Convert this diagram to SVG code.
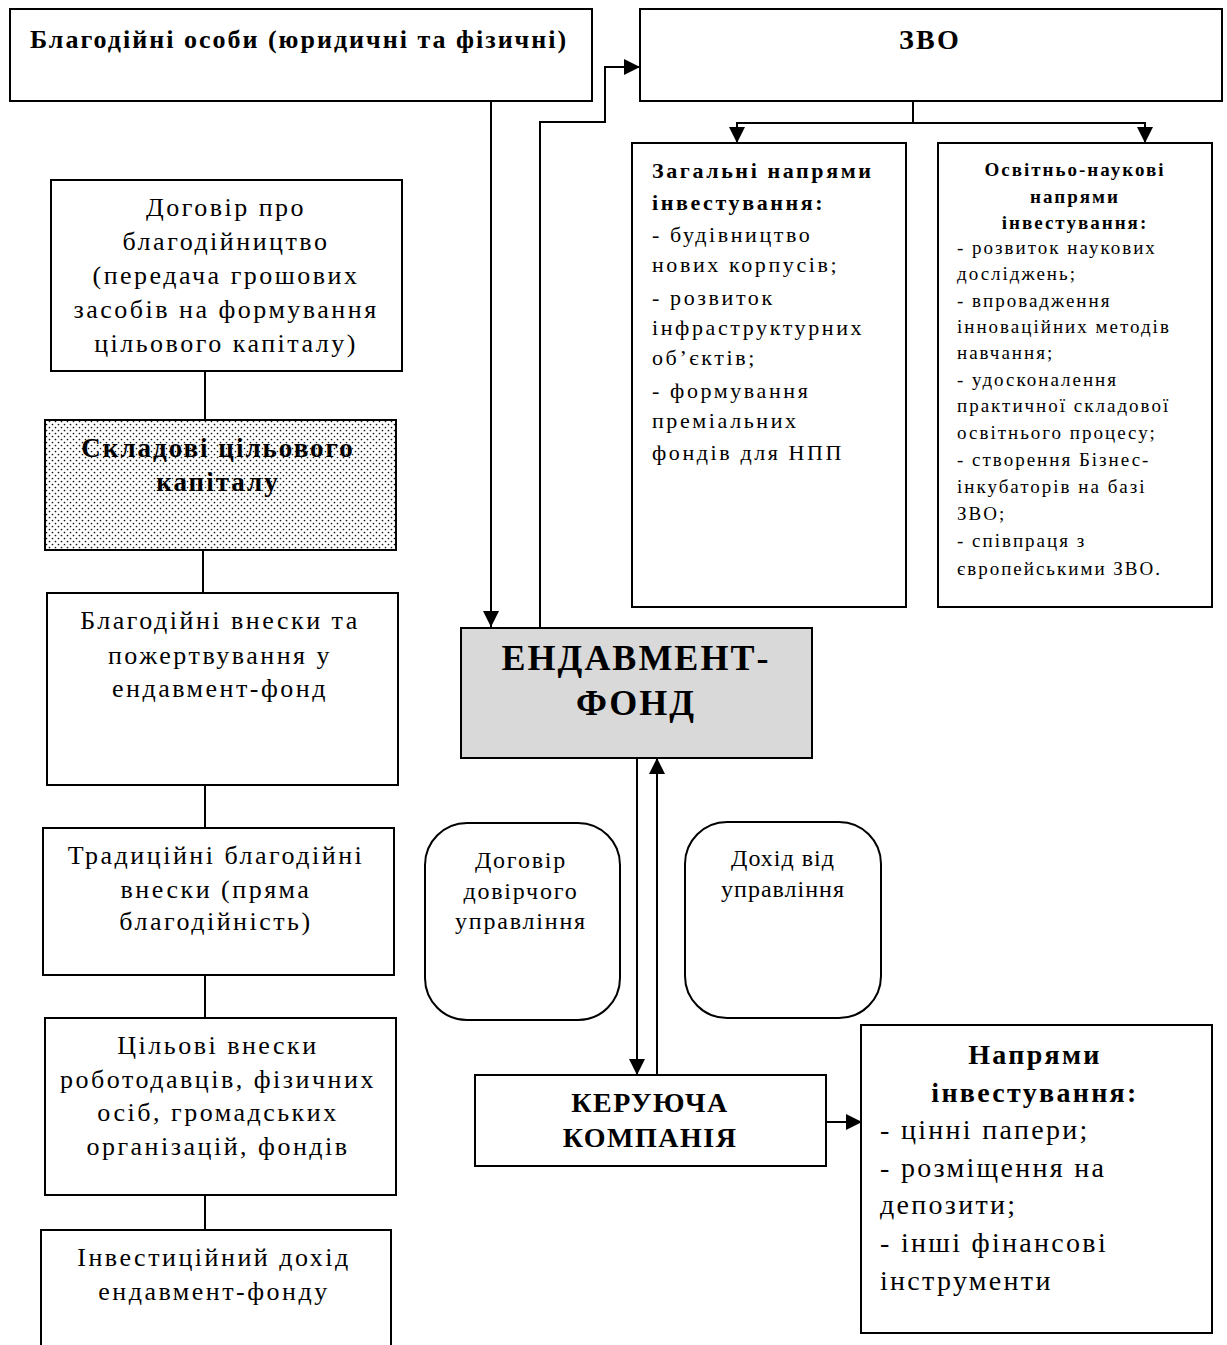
<svg xmlns="http://www.w3.org/2000/svg" width="1227" height="1345" viewBox="0 0 1227 1345">
<defs>
<pattern id="dots" width="6" height="6" patternUnits="userSpaceOnUse">
<rect width="6" height="6" fill="#fff" stroke="none"/>
<circle cx="1.5" cy="1.5" r="0.85" fill="#111"/>
<circle cx="4.5" cy="4.5" r="0.85" fill="#111"/>
</pattern>
<marker id="ahs" viewBox="0 0 10 10" refX="10" refY="5" markerWidth="16" markerHeight="16" markerUnits="userSpaceOnUse" orient="auto">
<path d="M0,0 L10,5 L0,10 z" fill="#000"/>
</marker>
</defs>
<style>
.n{fill:#fff;stroke:#000;stroke-width:2}
text{font-family:"Liberation Serif","Times New Roman",serif;fill:#000}
.c{text-anchor:middle}
.b{font-weight:bold}
.t26{font-size:26px;letter-spacing:2.5px}
.t22{font-size:22px;letter-spacing:2.6px}
.t18{font-size:19px;letter-spacing:2px}
.t24{font-size:24px;letter-spacing:1.8px}
.t28{font-size:28px;letter-spacing:2.3px}
.con line,.con path{stroke:#000;stroke-width:2;fill:none}
</style>
<rect width="1227" height="1345" fill="#fff"/>
<g class="con">
<line x1="491" y1="101" x2="491" y2="627" marker-end="url(#ahs)"/>
<path d="M540,628 V122 H605 V67 H640" marker-end="url(#ahs)"/>
<line x1="913" y1="101" x2="913" y2="123"/>
<path d="M737,143 V123 H1145 V143" marker-end="url(#ahs)"/>
<line x1="737" y1="123" x2="737" y2="143" marker-end="url(#ahs)"/>
<line x1="205" y1="371" x2="205" y2="420"/>
<line x1="203" y1="550" x2="203" y2="593"/>
<line x1="205" y1="785" x2="205" y2="828"/>
<line x1="205" y1="975" x2="205" y2="1018"/>
<line x1="205" y1="1195" x2="205" y2="1230"/>
<line x1="637" y1="758" x2="637" y2="1075" marker-end="url(#ahs)"/>
<line x1="657" y1="1075" x2="657" y2="758" marker-end="url(#ahs)"/>
<line x1="826" y1="1122" x2="862" y2="1122" marker-end="url(#ahs)"/>
</g>
<g id="donors">
<rect class="n" x="10" y="9" width="582" height="92"/>
<text class="b" x="30" y="48" style="font-size:26px;letter-spacing:2px">Благодійні особи (юридичні та фізичні)</text>
</g>
<g id="zvo">
<rect class="n" x="640" y="9" width="582" height="92"/>
<text class="c b t28" x="930" y="49">ЗВО</text>
</g>
<g id="general">
<rect class="n" x="632" y="143" width="274" height="464"/>
<text class="b t22" x="652" y="178">Загальні напрями</text>
<text class="b t22" x="652" y="210">інвестування:</text>
<text class="t22" x="652" y="242">- будівництво</text>
<text class="t22" x="652" y="272">нових корпусів;</text>
<text class="t22" x="652" y="305">- розвиток</text>
<text class="t22" x="652" y="335">інфраструктурних</text>
<text class="t22" x="652" y="365">об’єктів;</text>
<text class="t22" x="652" y="398">- формування</text>
<text class="t22" x="652" y="428">преміальних</text>
<text class="t22" x="652" y="460">фондів для НПП</text>
</g>
<g id="science">
<rect class="n" x="938" y="143" width="274" height="464"/>
<text class="c b t18" x="1075" y="176">Освітньо-наукові</text>
<text class="c b t18" x="1075" y="203">напрями</text>
<text class="c b t18" x="1075" y="229">інвестування:</text>
<text class="t18" x="957" y="254">- розвиток наукових</text>
<text class="t18" x="957" y="280">досліджень;</text>
<text class="t18" x="957" y="307">- впровадження</text>
<text class="t18" x="957" y="333">інноваційних методів</text>
<text class="t18" x="957" y="359">навчання;</text>
<text class="t18" x="957" y="386">- удосконалення</text>
<text class="t18" x="957" y="412">практичної складової</text>
<text class="t18" x="957" y="439">освітнього процесу;</text>
<text class="t18" x="957" y="466">- створення Бізнес-</text>
<text class="t18" x="957" y="493">інкубаторів на базі</text>
<text class="t18" x="957" y="520">ЗВО;</text>
<text class="t18" x="957" y="547">- співпраця з</text>
<text class="t18" x="957" y="575">європейськими ЗВО.</text>
</g>
<g id="contract">
<rect class="n" x="51" y="180" width="351" height="191"/>
<text class="c t26" x="226" y="216">Договір про</text>
<text class="c t26" x="226" y="250">благодійництво</text>
<text class="c t26" x="226" y="284">(передача грошових</text>
<text class="c t26" x="226" y="318">засобів на формування</text>
<text class="c t26" x="226" y="352">цільового капіталу)</text>
</g>
<g id="components">
<rect class="n" x="45" y="420" width="351" height="130" style="fill:url(#dots)"/>
<text class="c b" x="218" y="457" style="font-size:27px;letter-spacing:2px">Складові цільового</text>
<text class="c b" x="218" y="491" style="font-size:27px;letter-spacing:2px">капіталу</text>
</g>
<g id="donations">
<rect class="n" x="47" y="593" width="351" height="192"/>
<text class="c t26" x="220" y="629">Благодійні внески та</text>
<text class="c t26" x="220" y="664">пожертвування у</text>
<text class="c t26" x="220" y="697">ендавмент-фонд</text>
</g>
<g id="traditional">
<rect class="n" x="43" y="828" width="351" height="147"/>
<text class="c t26" x="216" y="864">Традиційні благодійні</text>
<text class="c t26" x="216" y="898">внески (пряма</text>
<text class="c t26" x="216" y="930">благодійність)</text>
</g>
<g id="targeted">
<rect class="n" x="45" y="1018" width="351" height="177"/>
<text class="c t26" x="218" y="1054">Цільові внески</text>
<text class="c t26" x="218" y="1088">роботодавців, фізичних</text>
<text class="c t26" x="218" y="1121">осіб, громадських</text>
<text class="c t26" x="218" y="1155">організацій, фондів</text>
</g>
<g id="income">
<rect class="n" x="41" y="1230" width="350" height="130"/>
<text class="c t26" x="214" y="1266">Інвестиційний дохід</text>
<text class="c t26" x="214" y="1300">ендавмент-фонду</text>
</g>
<g id="endowment">
<rect class="n" x="461" y="628" width="351" height="130" style="fill:#d9d9d9"/>
<text class="c b" x="636" y="670" style="font-size:36px;letter-spacing:2px">ЕНДАВМЕНТ-</text>
<text class="c b" x="636" y="715" style="font-size:36px;letter-spacing:2px">ФОНД</text>
</g>
<g id="trust">
<rect class="n" x="425" y="823" width="195" height="197" rx="42"/>
<text class="c t24" x="521" y="868">Договір</text>
<text class="c t24" x="521" y="899">довірчого</text>
<text class="c t24" x="521" y="929">управління</text>
</g>
<g id="mgmtincome">
<rect class="n" x="685" y="822" width="196" height="196" rx="42"/>
<text class="c t24" x="783" y="866" style="letter-spacing:1px">Дохід від</text>
<text class="c t24" x="783" y="897" style="letter-spacing:1px">управління</text>
</g>
<g id="company">
<rect class="n" x="475" y="1075" width="351" height="91"/>
<text class="c b t28" x="650" y="1112" style="letter-spacing:1.5px">КЕРУЮЧА</text>
<text class="c b t28" x="650" y="1147" style="letter-spacing:1.5px">КОМПАНІЯ</text>
</g>
<g id="directions">
<rect class="n" x="861" y="1025" width="351" height="308"/>
<text class="c b t28" x="1035" y="1064">Напрями</text>
<text class="c b t28" x="1035" y="1102">інвестування:</text>
<text class="t28" x="880" y="1139">- цінні папери;</text>
<text class="t28" x="880" y="1177">- розміщення на</text>
<text class="t28" x="880" y="1214">депозити;</text>
<text class="t28" x="880" y="1252">- інші фінансові</text>
<text class="t28" x="880" y="1290">інструменти</text>
</g>
</svg>
